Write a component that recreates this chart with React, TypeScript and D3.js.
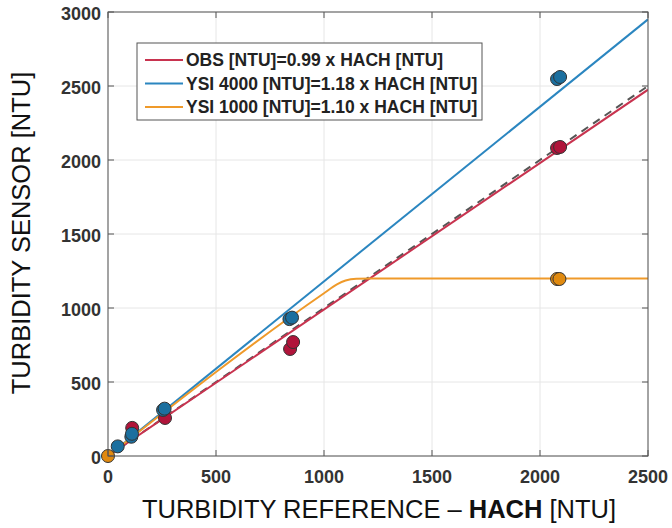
import * as d3 from 'd3';

const W = 672;
const H = 528;
const M = { top: 12, right: 24, bottom: 72, left: 108 };

const xTicks = [0, 500, 1000, 1500, 2000, 2500];
const yTicks = [0, 500, 1000, 1500, 2000, 2500, 3000];

// measured points [HACH, sensor]
const obsPts = [[112, 190], [264, 257], [843, 723], [857, 770], [2079, 2081], [2093, 2088]];
const ysi4000Pts = [[45, 65], [108, 130], [111, 150], [255, 311], [262, 320], [840, 925], [852, 935], [2079, 2547], [2093, 2561]];
const ysi1000Pts = [[0, 0], [2079, 1196], [2090, 1196]];

// fit lines
const oneToOne = [[0, 0], [2500, 2500]];
const obsFit = [[0, 0], [2500, 2475]];
const ysi4000Fit = [[0, 0], [2500, 2950]];
const ysi1000Fit = [[0, 0], [1000, 1100], [1060, 1160], [1100, 1186], [1150, 1198], [1220, 1200], [2500, 1200]];

const series = [
  { label: 'OBS [NTU]=0.99 x HACH [NTU]', line: '#c8334f', fill: '#b0143a', pts: obsPts, fit: obsFit },
  { label: 'YSI 4000 [NTU]=1.18 x HACH [NTU]', line: '#2b86c0', fill: '#1b6f9f', pts: ysi4000Pts, fit: ysi4000Fit },
  { label: 'YSI 1000 [NTU]=1.10 x HACH [NTU]', line: '#ef9a2a', fill: '#e08a10', pts: ysi1000Pts, fit: ysi1000Fit },
];

export default function App() {
  const x = d3.scaleLinear().domain([0, 2500]).range([M.left, W - M.right]);
  const y = d3.scaleLinear().domain([0, 3000]).range([H - M.bottom, M.top]);
  const line = d3.line<number[]>().x(d => x(d[0])).y(d => y(d[1]));
  const curved = d3.line<number[]>().x(d => x(d[0])).y(d => y(d[1])).curve(d3.curveMonotoneX);
  const x0 = x(0), x1 = x(2500), y0 = y(0), y1 = y(3000);
  const font = 'Liberation Sans, Arial, sans-serif';

  return (
    <svg width={W} height={H} style={{ position: 'absolute', left: 0, top: 0, background: '#fff' }}>
      <defs>
        <clipPath id="plot"><rect x={x0} y={y1} width={x1 - x0} height={y0 - y1} /></clipPath>
      </defs>
      {/* grid */}
      {xTicks.map(t => <line key={'gx' + t} x1={x(t)} x2={x(t)} y1={y1} y2={y0} stroke="#e6e6e6" />)}
      {yTicks.map(t => <line key={'gy' + t} x1={x0} x2={x1} y1={y(t)} y2={y(t)} stroke="#e6e6e6" />)}

      <g clipPath="url(#plot)">
        <path d={line(oneToOne) ?? ''} fill="none" stroke="#555" strokeWidth={2} strokeDasharray="8,6" />
        {series.map((s, i) => (
          <path key={'f' + i} d={(i === 2 ? curved(s.fit) : line(s.fit)) ?? ''} fill="none" stroke={s.line} strokeWidth={2} />
        ))}
      </g>
      {series.map((s, i) => (
        <g key={'p' + i}>
          {s.pts.map((p, j) => (
            <circle key={j} cx={x(p[0])} cy={y(p[1])} r={6.5} fill={s.fill} stroke="#333" strokeWidth={1} />
          ))}
        </g>
      ))}

      {/* box + inward ticks */}
      <rect x={x0} y={y1} width={x1 - x0} height={y0 - y1} fill="none" stroke="#555" strokeWidth={1} />
      {xTicks.map(t => (
        <g key={'tx' + t}>
          <line x1={x(t)} x2={x(t)} y1={y0} y2={y0 - 6} stroke="#555" />
          <line x1={x(t)} x2={x(t)} y1={y1} y2={y1 + 6} stroke="#555" />
          <text x={x(t)} y={y0 + 27} textAnchor="middle" fontFamily={font} fontWeight="bold" fontSize={18} fill="#333">{t}</text>
        </g>
      ))}
      {yTicks.map(t => (
        <g key={'ty' + t}>
          <line x1={x0} x2={x0 + 6} y1={y(t)} y2={y(t)} stroke="#555" />
          <line x1={x1} x2={x1 - 6} y1={y(t)} y2={y(t)} stroke="#555" />
          <text x={x0 - 7} y={y(t) + 7.5} textAnchor="end" fontFamily={font} fontWeight="bold" fontSize={18} fill="#333">{t}</text>
        </g>
      ))}

      {/* legend */}
      <rect x={137} y={43} width={345} height={77} fill="#fff" stroke="#555" strokeWidth={1} />
      {series.map((s, i) => (
        <g key={'l' + i} transform={`translate(0,${60 + i * 23.5})`}>
          <line x1={145} x2={183} y1={0} y2={0} stroke={s.line} strokeWidth={2} />
          <text x={186} y={6} fontFamily={font} fontWeight="bold" fontSize={17.5} fill="#222">{s.label}</text>
        </g>
      ))}

      {/* axis titles */}
      <text x={379} y={518} textAnchor="middle" fontFamily={font} fontSize={25.5} fill="#111">
        TURBIDITY REFERENCE – <tspan fontWeight="bold">HACH</tspan> [NTU]
      </text>
      <text transform={`translate(30,233) rotate(-90)`} textAnchor="middle" fontFamily={font} fontSize={25.5} fill="#111">
        TURBIDITY SENSOR [NTU]
      </text>
    </svg>
  );
}
